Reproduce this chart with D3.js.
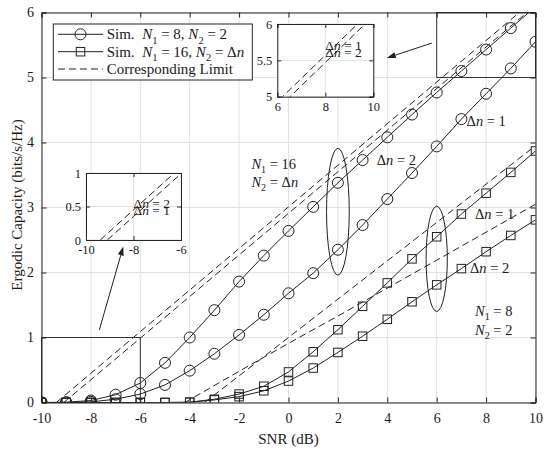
<!DOCTYPE html>
<html><head><meta charset="utf-8">
<script src="https://cdn.jsdelivr.net/npm/d3@7"></script>
<style>
body{margin:0;background:#fff}
svg{display:block}
text{font-family:"Liberation Serif","Times New Roman",serif;fill:#1a1a1a;white-space:pre}
</style>
</head><body>
<svg id="c" width="550" height="452"></svg>
<script>
// ---------------- data ----------------
const snr = [-10,-9,-8,-7,-6,-5,-4,-3,-2,-1,0,1,2,3,4,5,6,7,8,9,10];
const circUpper = [0,0.005,0.03,0.12,0.30,0.61,1.00,1.42,1.86,2.26,2.64,3.01,3.38,3.73,4.08,4.43,4.77,5.10,5.43,5.76,6.09];
const circLower = [0,0,0.01,0.05,0.13,0.27,0.49,0.75,1.04,1.35,1.68,1.99,2.35,2.73,3.13,3.53,3.94,4.36,4.75,5.14,5.55];
const sqUpper = [0,0,0,0,0,0,0.005,0.05,0.13,0.25,0.47,0.78,1.12,1.48,1.84,2.21,2.55,2.90,3.22,3.54,3.87];
const sqLower = [0,0,0,0,0,0,0.003,0.04,0.09,0.18,0.33,0.53,0.77,1.02,1.28,1.55,1.81,2.06,2.32,2.57,2.81];

const limSnrA = [-9.4,-8,-6,-4,-2,0,2,4,6,8,10];
const limCircA = [0,0.45,1.09,1.73,2.37,3.01,3.65,4.29,4.93,5.57,6.21];
const limSnrB = [-9.1,-8,-6,-4,-2,0,2,4,6,8,10];
const limCircB = [0,0.35,0.99,1.63,2.27,2.91,3.55,4.19,4.83,5.47,6.11];
const limSnrC = [-3.4,-2,0,2,4,6,8,10];
const limSqA = [0,0.41,1.00,1.59,2.18,2.77,3.36,3.95];
const limSnrD = [-4.2,-2,0,2,4,6,8,10];
const limSqB = [0,0.48,0.91,1.33,1.76,2.19,2.62,3.05];

const xTicks = [-10,-8,-6,-4,-2,0,2,4,6,8,10];
const yTicks = [0,1,2,3,4,5,6];
const insetUpXTicks = [6,8,10];
const insetUpYTicks = [5,5.5,6];
const insetLoXTicks = [-10,-8,-6];
const insetLoYTicks = [0,0.5,1];

const legendLabels = ["Sim.", "Sim.", "Corresponding Limit"];

// ---------------- drawing ----------------
const INK = "#222";
const DASH = "7,4";
const svg = d3.select("#c");
const M = {l:41.5, r:535.5, t:12.5, b:402.5};
const x = d3.scaleLinear().domain([-10,10]).range([M.l, M.r]);
const y = d3.scaleLinear().domain([0,6]).range([M.b, M.t]);

function mtext(sel, px, py, parts, fs, anchor) {
  const t = sel.append("text").attr("x", px).attr("y", py).attr("font-size", fs);
  if (anchor) t.attr("text-anchor", anchor);
  let shift = 0;
  parts.forEach(p => {
    const ts = t.append("tspan").text(p.t);
    if (p.i) ts.attr("font-style", "italic");
    const want = p.s ? fs*0.28 : 0;
    if (want !== shift) { ts.attr("dy", want - shift); shift = want; }
    if (p.s) ts.attr("font-size", fs*0.7);
  });
  return t;
}
const dn = v => [{t:"\u0394"},{t:"n",i:1},{t:" = " + v}];

// grid
const grid = svg.append("g").attr("stroke", "#e2e2e2").attr("stroke-width", 1);
grid.selectAll(".gx").data(xTicks).join("line")
  .attr("x1", d=>x(d)).attr("x2", d=>x(d)).attr("y1", M.t).attr("y2", M.b);
grid.selectAll(".gy").data(yTicks).join("line")
  .attr("y1", d=>y(d)).attr("y2", d=>y(d)).attr("x1", M.l).attr("x2", M.r);

const defs = svg.append("defs");
defs.append("clipPath").attr("id", "pc").append("rect")
  .attr("x", M.l).attr("y", M.t).attr("width", M.r - M.l).attr("height", M.b - M.t);

const plot = svg.append("g").attr("clip-path", "url(#pc)");
const zip = (xs, ys) => xs.map((v,i)=>[v, ys[i]]);
const line = d3.line().x(d=>x(d[0])).y(d=>y(d[1]));

// dashed limits
[[limSnrA,limCircA],[limSnrB,limCircB],[limSnrC,limSqA],[limSnrD,limSqB]].forEach(([xs,ys])=>{
  plot.append("path").attr("d", line(zip(xs,ys))).attr("fill","none")
    .attr("stroke", INK).attr("stroke-width", 1).attr("stroke-dasharray", DASH);
});

// simulated series
function series(vals, shape) {
  const pts = zip(snr, vals);
  plot.append("path").attr("d", line(pts)).attr("fill","none").attr("stroke", INK).attr("stroke-width", 1);
  const shown = pts.filter(d=>d[1] <= 6);
  if (shape === "circle") {
    plot.append("g").selectAll("circle").data(shown).join("circle")
      .attr("cx", d=>x(d[0])).attr("cy", d=>y(d[1])).attr("r", 5.5)
      .attr("fill","none").attr("stroke", INK).attr("stroke-width", 1);
  } else {
    const s = 8.5;
    plot.append("g").selectAll("rect").data(shown).join("rect")
      .attr("x", d=>x(d[0]) - s/2).attr("y", d=>y(d[1]) - s/2).attr("width", s).attr("height", s)
      .attr("fill","none").attr("stroke", INK).attr("stroke-width", 1);
  }
}
series(circUpper, "circle");
series(circLower, "circle");
series(sqUpper, "square");
series(sqLower, "square");

// zoom rectangles on main plot
const ann = svg.append("g");
[[-10,-6,0,1],[6,10,5,6]].forEach(([x0,x1,y0,y1])=>{
  ann.append("rect").attr("x", x(x0)).attr("y", y(y1)).attr("width", x(x1)-x(x0)).attr("height", y(y0)-y(y1))
    .attr("fill","none").attr("stroke", "#333").attr("stroke-width", 1);
});

// ellipses
[[2, 2.935, 0.46, 0.975],[6, 2.21, 0.43, 0.81]].forEach(([cx,cy,rx,ry])=>{
  ann.append("ellipse").attr("cx", x(cx)).attr("cy", y(cy))
    .attr("rx", x(cx+rx)-x(cx)).attr("ry", y(cy)-y(cy+ry))
    .attr("fill","none").attr("stroke", INK).attr("stroke-width", 1);
});

// arrows
function arrow(x0,y0,x1,y1) {
  const a = [x(x0), y(y0)], b = [x(x1), y(y1)];
  const ang = Math.atan2(b[1]-a[1], b[0]-a[0]);
  const L = 9, Wd = 3;
  const base = [b[0] - L*Math.cos(ang), b[1] - L*Math.sin(ang)];
  ann.append("line").attr("x1", a[0]).attr("y1", a[1]).attr("x2", base[0]).attr("y2", base[1])
    .attr("stroke", INK).attr("stroke-width", 1);
  const p1 = [base[0] + Wd*Math.sin(ang), base[1] - Wd*Math.cos(ang)];
  const p2 = [base[0] - Wd*Math.sin(ang), base[1] + Wd*Math.cos(ang)];
  ann.append("path").attr("d", `M${b[0]},${b[1]}L${p1[0]},${p1[1]}L${p2[0]},${p2[1]}Z`).attr("fill", INK);
}
arrow(5.80, 5.53, 3.98, 5.30);
arrow(-7.66, 1.115, -6.69, 2.40);

// annotation labels
const FS = 14.5;
mtext(ann, x(-1.5), y(3.59), [{t:"N",i:1},{t:"1",s:1},{t:" = 16"}], FS);
mtext(ann, x(-1.5), y(3.31), [{t:"N",i:1},{t:"2",s:1},{t:" = "},{t:"\u0394"},{t:"n",i:1}], FS);
mtext(ann, x(3.57), y(3.65), dn(2), FS);
mtext(ann, x(7.21), y(4.25), dn(1), FS);
mtext(ann, x(7.55), y(2.82), dn(1), FS);
mtext(ann, x(7.35), y(2.0), dn(2), FS);
mtext(ann, x(7.55), y(1.33), [{t:"N",i:1},{t:"1",s:1},{t:" = 8"}], FS);
mtext(ann, x(7.55), y(1.04), [{t:"N",i:1},{t:"2",s:1},{t:" = 2"}], FS);

// ---------------- insets ----------------
function inset(id, px0, px1, py0, py1, xd, yd, xt, yt, labels) {
  const ix = d3.scaleLinear().domain(xd).range([px0, px1]);
  const iy = d3.scaleLinear().domain(yd).range([py1, py0]);
  const g = svg.append("g");
  g.append("rect").attr("x", px0).attr("y", py0).attr("width", px1-px0).attr("height", py1-py0).attr("fill", "#fff");
  const gg = g.append("g").attr("stroke", "#e2e2e2");
  gg.selectAll("line.a").data(xt).join("line").attr("x1", d=>ix(d)).attr("x2", d=>ix(d)).attr("y1", py0).attr("y2", py1);
  gg.selectAll("line.b").data(yt).join("line").attr("y1", d=>iy(d)).attr("y2", d=>iy(d)).attr("x1", px0).attr("x2", px1);
  defs.append("clipPath").attr("id", id).append("rect").attr("x", px0).attr("y", py0).attr("width", px1-px0).attr("height", py1-py0);
  const pl = g.append("g").attr("clip-path", `url(#${id})`);
  const il = d3.line().x(d=>ix(d[0])).y(d=>iy(d[1]));
  [[limSnrA,limCircA],[limSnrB,limCircB]].forEach(([xs,ys])=>{
    pl.append("path").attr("d", il(zip(xs,ys))).attr("fill","none").attr("stroke", INK)
      .attr("stroke-width", 1).attr("stroke-dasharray", DASH);
  });
  const fmt = d => String(d);
  const ax = [
    g.append("g").attr("transform", `translate(0,${py1})`).call(d3.axisBottom(ix).tickValues(xt).tickSize(-4).tickPadding(5).tickFormat(fmt)),
    g.append("g").attr("transform", `translate(0,${py0})`).call(d3.axisTop(ix).tickValues(xt).tickSize(-4).tickFormat("")),
    g.append("g").attr("transform", `translate(${px0},0)`).call(d3.axisLeft(iy).tickValues(yt).tickSize(-4).tickPadding(5).tickFormat(fmt)),
    g.append("g").attr("transform", `translate(${px1},0)`).call(d3.axisRight(iy).tickValues(yt).tickSize(-4).tickFormat(""))
  ];
  ax.forEach(a => {
    a.attr("font-family", null).attr("font-size", null);
    a.selectAll("path,line").attr("stroke", "#262626");
    a.selectAll("text").attr("font-size", 12.5).attr("fill", "#1a1a1a");
  });
  labels.forEach(([lx, ly, v]) => mtext(g, ix(lx), iy(ly), dn(v), 13.5));
}
inset("ci1", 277.3, 373.3, 24, 96.7, [6,10], [5,6], insetUpXTicks, insetUpYTicks, [[8,5.64,1],[8,5.55,2]]);
inset("ci2", 86, 181, 173, 240, [-10,-6], [0,1], insetLoXTicks, insetLoYTicks, [[-8,0.48,2],[-8,0.37,1]]);

// ---------------- axes ----------------
const fmt = d => String(d);
const axes = [
  svg.append("g").attr("transform", `translate(0,${M.b})`).call(d3.axisBottom(x).tickValues(xTicks).tickSize(-5).tickPadding(10.5).tickFormat(fmt)),
  svg.append("g").attr("transform", `translate(0,${M.t})`).call(d3.axisTop(x).tickValues(xTicks).tickSize(-5).tickFormat("")),
  svg.append("g").attr("transform", `translate(${M.l},0)`).call(d3.axisLeft(y).tickValues(yTicks).tickSize(-5).tickPadding(7.5).tickFormat(fmt)),
  svg.append("g").attr("transform", `translate(${M.r},0)`).call(d3.axisRight(y).tickValues(yTicks).tickSize(-5).tickFormat(""))
];
axes.forEach(a => {
  a.attr("font-family", null).attr("font-size", null);
  a.selectAll("path,line").attr("stroke", "#262626");
  a.selectAll("text").attr("font-size", 14).attr("fill", "#1a1a1a");
});

svg.append("text").attr("x", (M.l+M.r)/2).attr("y", 444).attr("text-anchor", "middle")
  .attr("font-size", 15).text("SNR (dB)");
svg.append("text").attr("transform", "translate(22,205) rotate(-90)").attr("text-anchor", "middle")
  .attr("font-size", 15).text("Ergodic Capacity (bits/s/Hz)");

// ---------------- legend ----------------
const lg = svg.append("g");
lg.append("rect").attr("x", 53.3).attr("y", 24).attr("width", 199).attr("height", 56)
  .attr("fill", "#fff").attr("stroke", "#262626").attr("stroke-width", 1);
const rows = [34.3, 51.7, 69];
const LFS = 15;
rows.forEach((ry, i) => {
  lg.append("line").attr("x1", 58).attr("x2", 103).attr("y1", ry).attr("y2", ry)
    .attr("stroke", INK).attr("stroke-width", 1).attr("stroke-dasharray", i === 2 ? DASH : null);
  if (i === 0) lg.append("circle").attr("cx", 80.5).attr("cy", ry).attr("r", 5.5).attr("fill","none").attr("stroke", INK);
  if (i === 1) lg.append("rect").attr("x", 80.5-4.25).attr("y", ry-4.25).attr("width", 8.5).attr("height", 8.5).attr("fill","none").attr("stroke", INK);
});
mtext(lg, 106.7, rows[0]+5, [{t:legendLabels[0]+"  "},{t:"N",i:1},{t:"1",s:1},{t:" = 8, "},{t:"N",i:1},{t:"2",s:1},{t:" = 2"}], LFS);
mtext(lg, 106.7, rows[1]+5, [{t:legendLabels[1]+"  "},{t:"N",i:1},{t:"1",s:1},{t:" = 16, "},{t:"N",i:1},{t:"2",s:1},{t:" = "},{t:"\u0394"},{t:"n",i:1}], LFS);
mtext(lg, 106.7, rows[2]+5, [{t:legendLabels[2]}], LFS);
</script>
</body></html>
